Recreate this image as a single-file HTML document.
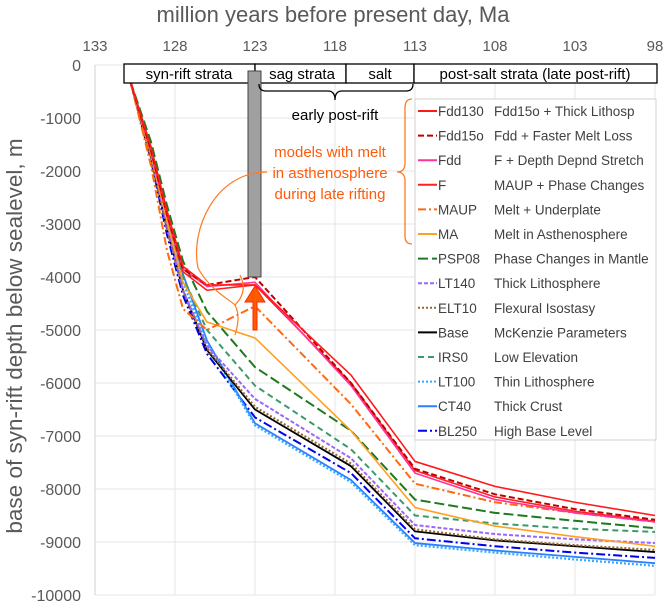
<!DOCTYPE html>
<html><head><meta charset="utf-8"><style>
body{margin:0;background:#fff;}
svg{display:block;font-family:"Liberation Sans",sans-serif;}
</style></head><body>
<svg id="chart" width="666" height="604" viewBox="0 0 666 604">
<g id="grid"></g>
<g id="axes"></g>
<g id="series"></g>
<g id="annot">
  <rect x="124" y="64" width="131" height="19" fill="#fff" stroke="#000" stroke-width="1.3"/>
  <text x="189" y="79" font-size="15" text-anchor="middle" fill="#000">syn-rift strata</text>
  <rect x="255" y="64" width="91" height="19" fill="#fff" stroke="#000" stroke-width="1.3"/>
  <text x="302" y="79" font-size="15" text-anchor="middle" fill="#000">sag strata</text>
  <rect x="346" y="64" width="68" height="19" fill="#fff" stroke="#000" stroke-width="1.3"/>
  <text x="380" y="79" font-size="15" text-anchor="middle" fill="#000">salt</text>
  <rect x="414" y="64" width="243" height="19" fill="#fff" stroke="#000" stroke-width="1.3"/>
  <text x="535" y="79" font-size="15" text-anchor="middle" fill="#000">post-salt strata (late post-rift)</text>
  <rect x="248" y="71" width="13" height="206" fill="#a0a0a0" stroke="#444" stroke-width="1"/>
  <path d="M259,84 Q259,91 266,91 L328,91 Q335,91 335,100 Q335,91 342,91 L406,91 Q413,91 413,84" fill="none" stroke="#000" stroke-width="1.3"/>
  <text x="335" y="120" font-size="15" text-anchor="middle" fill="#000">early post-rift</text>
  <text x="330" y="157" font-size="15" text-anchor="middle" fill="#ff5a0a">models with melt</text>
  <text x="330" y="178" font-size="15" text-anchor="middle" fill="#ff5a0a">in asthenosphere</text>
  <text x="330" y="199" font-size="15" text-anchor="middle" fill="#ff5a0a">during late rifting</text>
  <path d="M412,99 Q405,99 405,108 L405,163 Q405,172 397,172 Q405,172 405,181 L405,236 Q405,244 412,244" fill="none" stroke="#ff7a20" stroke-width="1.3"/>
  <path d="M267,172 C215,172 190,230 198,268 M198,268 C210,290 230,300 235,305 M235,305 C245,295 245,285 240,275 M235,305 C240,315 238,325 235,335" fill="none" stroke="#ff7a20" stroke-width="1.2"/>
  <path d="M253,330 L253,302 L245,302 L255,286 L265,302 L257,302 L257,330 Z" fill="#ff5a00" stroke="#ff2a00" stroke-width="1"/>
</g>
<g id="legend"></g>
<text x="333" y="22" font-size="22" text-anchor="middle" fill="#595959">million years before present day, Ma</text>
<text transform="translate(22,336) rotate(-90)" font-size="22.5" text-anchor="middle" fill="#595959">base of syn-rift depth below sealevel, m</text>
</svg>
<script>
const NS="http://www.w3.org/2000/svg";
const times=[130.8,129.5,128.5,127.5,126,123,117,113,108,103,98];
const xTicks=[133,128,123,118,113,108,103,98];
const yTicks=[0,-1000,-2000,-3000,-4000,-5000,-6000,-7000,-8000,-9000,-10000];
const seriesNames=["Fdd130","Fdd15o","Fdd","F","MAUP","MA","PSP08","LT140","ELT10","Base","IRS0","LT100","CT40","BL250"];
const seriesDesc=["Fdd15o + Thick Lithosp","Fdd + Faster Melt Loss","F + Depth Depnd Stretch","MAUP + Phase Changes","Melt + Underplate","Melt in Asthenosphere","Phase Changes in Mantle","Thick Lithosphere","Flexural Isostasy","McKenzie Parameters","Low Elevation","Thin Lithosphere","Thick Crust","High Base Level"];
const vFdd130=[-300,-1550,-2750,-3800,-4150,-4150,-5850,-7480,-7950,-8250,-8500];
const vFdd15o=[-300,-1600,-2800,-3850,-4150,-4000,-6000,-7620,-8100,-8380,-8580];
const vFdd=[-300,-1600,-2800,-3850,-4180,-4100,-6050,-7700,-8200,-8450,-8620];
const vF=[-300,-1650,-2850,-3900,-4250,-4150,-6000,-7650,-8150,-8420,-8610];
const vMAUP=[-300,-1900,-3500,-4600,-5000,-4550,-6400,-7900,-8250,-8450,-8620];
const vMA=[-300,-1700,-2950,-4100,-4850,-5150,-6900,-8350,-8700,-8900,-9080];
const vPSP08=[-300,-1450,-2650,-3700,-4650,-5700,-6900,-8200,-8450,-8600,-8740];
const vLT140=[-300,-1700,-3050,-4250,-5300,-6300,-7420,-8680,-8850,-8950,-9020];
const vELT10=[-300,-1750,-3100,-4250,-5350,-6450,-7520,-8760,-8950,-9060,-9150];
const vBase=[-300,-1750,-3100,-4250,-5380,-6500,-7570,-8800,-8970,-9080,-9190];
const vIRS0=[-300,-1600,-2900,-4000,-5000,-6050,-7250,-8500,-8650,-8750,-8810];
const vLT100=[-300,-1650,-2950,-4100,-5250,-6800,-7870,-9060,-9200,-9330,-9450];
const vCT40=[-300,-1550,-2800,-3950,-5200,-6760,-7830,-9020,-9160,-9280,-9400];
const vBL250=[-300,-1800,-3200,-4350,-5450,-6650,-7700,-8930,-9080,-9200,-9300];
const allValues=[vFdd130,vFdd15o,vFdd,vF,vMAUP,vMA,vPSP08,vLT140,vELT10,vBase,vIRS0,vLT100,vCT40,vBL250];
const styles=[
 {c:"#ff1a1a",d:"",w:1.6},{c:"#c00000",d:"6,3",w:2},{c:"#ff3399",d:"",w:1.6},{c:"#ff2020",d:"",w:1.6},
 {c:"#ff6a10",d:"8,3,2,3",w:2},{c:"#ffa020",d:"",w:1.6},{c:"#1e7a1e",d:"10,4",w:2},{c:"#9966ff",d:"4,2",w:2},
 {c:"#996633",d:"2,2",w:2.2},{c:"#000000",d:"",w:1.8},{c:"#3a9a6a",d:"6,4",w:2},{c:"#33aaff",d:"2,2",w:2.2},
 {c:"#2a80ff",d:"",w:1.8},{c:"#0000ee",d:"9,3,2,3",w:2}];
const X0=95,PX=16,Y0=65,PY=0.053;
function xs(t){return X0+(133-t)*PX;}
function ys(v){return Y0-v*PY;}
const grid=document.getElementById('grid'),axes=document.getElementById('axes');
xTicks.forEach(t=>{
 const l=document.createElementNS(NS,'line');
 
 
 l.setAttribute('x1',xs(t));l.setAttribute('x2',xs(t));l.setAttribute('y1',ys(0));l.setAttribute('y2',ys(-10000));
 l.setAttribute('stroke','#e4e4e4');l.setAttribute('stroke-width','1');grid.appendChild(l);
 const tx=document.createElementNS(NS,'text');
 
 
 tx.setAttribute('x',xs(t));tx.setAttribute('y',51);tx.setAttribute('font-size','15');tx.setAttribute('text-anchor','middle');tx.setAttribute('fill','#595959');
 tx.textContent=t;axes.appendChild(tx);
});
yTicks.forEach(v=>{
 const l=document.createElementNS(NS,'line');
 
 
 l.setAttribute('x1',xs(133));l.setAttribute('x2',xs(98));l.setAttribute('y1',ys(v));l.setAttribute('y2',ys(v));
 l.setAttribute('stroke','#e4e4e4');l.setAttribute('stroke-width','1');grid.appendChild(l);
 const tx=document.createElementNS(NS,'text');
 
 
 tx.setAttribute('x',81);tx.setAttribute('y',ys(v)+6);tx.setAttribute('font-size','16');tx.setAttribute('text-anchor','end');tx.setAttribute('fill','#595959');
 tx.textContent=v;axes.appendChild(tx);
});
const ax=document.createElementNS(NS,'line');


ax.setAttribute('x1',X0);ax.setAttribute('x2',X0);ax.setAttribute('y1',ys(0));ax.setAttribute('y2',ys(-10000));ax.setAttribute('stroke','#d0d0d0');axes.appendChild(ax);
const sg=document.getElementById('series');
for(let i=allValues.length-1;i>=0;i--){
 const p=document.createElementNS(NS,'polyline');
 
 
 p.setAttribute('points',times.map((t,k)=>xs(t)+','+ys(allValues[i][k])).join(' '));
 p.setAttribute('fill','none');p.setAttribute('stroke',styles[i].c);p.setAttribute('stroke-width',styles[i].w);
 p.setAttribute('stroke-linejoin','round');
 if(styles[i].d)p.setAttribute('stroke-dasharray',styles[i].d);
 sg.appendChild(p);
}
const lg=document.getElementById('legend');
const bx=document.createElementNS(NS,'rect');


bx.setAttribute('x',415);bx.setAttribute('y',99);bx.setAttribute('width',241);bx.setAttribute('height',341);bx.setAttribute('fill','#fff');bx.setAttribute('stroke','#d0d0d0');lg.appendChild(bx);
seriesNames.forEach((n,i)=>{
 const y=111+i*24.6;
 const l=document.createElementNS(NS,'line');
 
 
 l.setAttribute('x1',418);l.setAttribute('x2',437);l.setAttribute('y1',y);l.setAttribute('y2',y);
 l.setAttribute('stroke',styles[i].c);l.setAttribute('stroke-width',2);
 if(styles[i].d)l.setAttribute('stroke-dasharray',styles[i].d);
 lg.appendChild(l);
 const t1=document.createElementNS(NS,'text');
 
 
 t1.setAttribute('x',438);t1.setAttribute('y',y+5);t1.setAttribute('font-size','13.5');t1.setAttribute('fill','#404040');
 t1.textContent=n;lg.appendChild(t1);
 const t2=document.createElementNS(NS,'text');
 
 
 t2.setAttribute('x',494);t2.setAttribute('y',y+5);t2.setAttribute('font-size','13.5');t2.setAttribute('fill','#404040');
 t2.textContent=seriesDesc[i];lg.appendChild(t2);
});
</script>
</body></html>
